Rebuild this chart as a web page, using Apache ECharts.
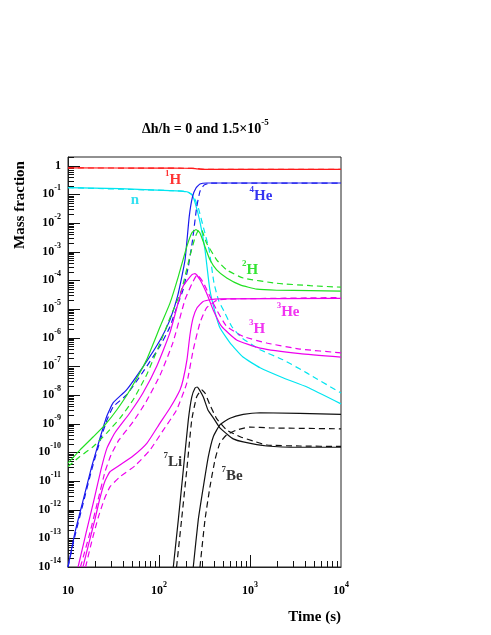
<!DOCTYPE html>
<html>
<head>
<meta charset="utf-8">
<script src="https://cdn.jsdelivr.net/npm/echarts@6/dist/echarts.min.js"></script>
<style>
  html, body { margin: 0; padding: 0; background: #fff; }
  #chart { width: 491px; height: 635px; }
</style>
</head>
<body>
<div id="chart"></div>
<script>
// time (s) and mass fraction, solid = Δh/h 0, dashed = 1.5e-5
const tH1 = [10, 100, 190, 230, 260, 300, 400, 10000];
const yH1 = [0.83, 0.82, 0.81, 0.80, 0.77, 0.745, 0.74, 0.74];
const tH1d = [10, 100, 200, 250, 280, 320, 450, 10000];
const yH1d = [0.83, 0.82, 0.81, 0.80, 0.77, 0.745, 0.74, 0.74];

const tN = [10, 37, 132, 203, 230, 249, 282, 320, 362, 412, 467, 603, 837, 1290, 2300, 4230, 10000];
const yN = [0.170, 0.158, 0.135, 0.123, 0.0977, 0.0513, 0.011, 1.17e-3, 4.7e-5, 7.9e-6, 2.2e-6, 6.6e-7, 2.1e-7, 8.9e-8, 4.0e-8, 1.9e-8, 4.9e-9];
const tNd = [10, 132, 203, 237, 268, 304, 355, 402, 453, 528, 632, 815, 1290, 2300, 4200, 10000];
const yNd = [0.170, 0.135, 0.123, 0.089, 0.037, 8.1e-3, 1.17e-3, 8.1e-5, 1.95e-5, 7.4e-6, 2.4e-6, 9.8e-7, 3.8e-7, 1.7e-7, 5.9e-8, 1.17e-8];

const tHe4 = [10, 11.9, 14.7, 18.2, 22.5, 26.6, 31.4, 44, 67, 103, 132, 160, 193, 215, 234, 255, 282, 334, 10000];
const yHe4 = [1e-14, 1.55e-13, 2.19e-12, 3.16e-11, 3.16e-10, 1.78e-9, 5.37e-9, 1.51e-8, 9.8e-8, 8.3e-7, 4.17e-6, 2.8e-5, 5.0e-4, 1.7e-2, 8.5e-2, 0.166, 0.229, 0.248, 0.248];
const tHe4d = [10, 11.9, 14.7, 18.2, 22.5, 26.6, 31.4, 44, 67, 103, 132, 160, 184, 210, 234, 259, 282, 312, 363, 10000];
const yHe4d = [1e-14, 1.2e-13, 1.7e-12, 2.45e-11, 2.5e-10, 1.26e-9, 3.9e-9, 1e-8, 6.5e-8, 5.2e-7, 2.4e-6, 1.4e-5, 4.7e-5, 3.0e-4, 2.6e-3, 3.4e-2, 0.126, 0.209, 0.245, 0.245];

const tH2 = [10, 13.5, 19.0, 25.5, 34.3, 48, 73, 103, 132, 163, 202, 229, 255, 282, 320, 363, 430, 555, 780, 1190, 1970, 4600, 10000];
const yH2 = [4.2e-11, 1.2e-10, 3.5e-10, 9.1e-10, 3.0e-9, 1.5e-8, 1.7e-7, 2.45e-6, 1.6e-5, 1.35e-4, 1.5e-3, 4.5e-3, 5.9e-3, 4.5e-3, 1.5e-3, 5.2e-4, 2.3e-4, 1.2e-4, 6.9e-5, 4.9e-5, 4.5e-5, 4.4e-5, 4.2e-5];
const tH2d = [10, 13.5, 19.0, 26.6, 37.3, 52, 73, 103, 132, 177, 219, 249, 275, 297, 333, 430, 555, 842, 1970, 4600, 10000];
const yH2d = [3.2e-11, 7.1e-11, 1.6e-10, 4.7e-10, 1.55e-9, 6.8e-9, 5.0e-8, 6.5e-7, 4.9e-6, 4.7e-5, 7.2e-4, 3.1e-3, 5.9e-3, 5.4e-3, 2.0e-3, 5.2e-4, 2.3e-4, 1.2e-4, 7.9e-5, 6.5e-5, 5.75e-5];

const tH3 = [12.9, 15.8, 19.3, 23.0, 26.8, 32.8, 48, 66.6, 95, 132, 183, 229, 249, 282, 333, 394, 488, 713, 1290, 3540, 10000];
const yH3 = [1e-14, 1.55e-13, 2.2e-12, 2.45e-11, 1.4e-10, 4.8e-10, 2.4e-9, 1.17e-8, 1.05e-7, 1.5e-6, 6.0e-5, 1.55e-4, 1.7e-4, 1.05e-4, 3.6e-5, 9.3e-6, 2.45e-6, 8.3e-7, 4.3e-7, 2.75e-7, 2.1e-7];
const tH3d = [13.7, 17.4, 21.4, 25.5, 29.7, 36.3, 51.8, 72, 103, 142, 193, 230, 263, 303, 363, 430, 555, 842, 1530, 3540, 10000];
const yH3d = [1e-14, 1.55e-13, 2.2e-12, 2.1e-11, 8.1e-11, 2.7e-10, 1.15e-9, 5.75e-9, 5.0e-8, 6.6e-7, 2.1e-5, 7.6e-5, 1.55e-4, 8.9e-5, 2.75e-5, 9.3e-6, 2.45e-6, 1.1e-6, 6.5e-7, 4.0e-7, 2.95e-7];

const tHe3 = [14.6, 17.0, 19.8, 22.5, 25.5, 28.9, 37.2, 51.8, 73.8, 103, 132, 170, 184, 203, 219, 237, 262, 303, 363, 467, 10000];
const yHe3 = [1e-14, 6.9e-14, 4.7e-13, 2.6e-12, 1e-11, 2.1e-11, 3.6e-11, 7.4e-11, 2.1e-10, 1.07e-9, 3.5e-9, 1.5e-8, 3.4e-8, 1.7e-7, 1.26e-6, 4.9e-6, 1.1e-5, 1.8e-5, 2.1e-5, 2.24e-5, 2.34e-5];
const tHe3d = [15.6, 18.3, 21.4, 24.9, 28.9, 37.2, 54.5, 79.6, 110, 156, 202, 238, 282, 333, 430, 603, 10000];
const yHe3d = [1e-14, 8.1e-14, 5.1e-13, 2.2e-12, 6.2e-12, 1.4e-11, 3.4e-11, 1.2e-10, 5.6e-10, 3.0e-9, 2.6e-8, 3.8e-7, 3.3e-6, 1.1e-5, 2.0e-5, 2.24e-5, 2.5e-5];

const tLi7 = [143.6, 163, 185, 210, 229, 249, 262, 275, 307, 345, 395, 467, 555, 654, 842, 1530, 3540, 10000];
const yLi7 = [1e-14, 4.4e-13, 2.45e-11, 1.35e-9, 8.5e-9, 1.74e-8, 1.9e-8, 1.6e-8, 8.5e-9, 3.0e-9, 1.6e-9, 7.1e-10, 4.4e-10, 2.95e-10, 2.3e-10, 1.66e-10, 1.5e-10, 1.5e-10];
const tLi7d = [156, 177, 202, 229, 259, 294, 320, 363, 430, 555, 780, 1080, 1530, 3540, 10000];
const yLi7d = [1e-14, 4.4e-13, 2.45e-11, 1.35e-9, 8.5e-9, 1.5e-8, 1.17e-8, 4.5e-9, 1.5e-9, 6.0e-10, 3.5e-10, 2.5e-10, 1.8e-10, 1.66e-10, 1.6e-10];

const tBe7 = [238, 270, 307, 348, 395, 467, 603, 842, 1290, 10000];
const yBe7 = [1e-14, 4.4e-13, 6.2e-12, 6.9e-11, 3.5e-10, 9.1e-10, 1.55e-9, 2.1e-9, 2.4e-9, 2.1e-9];
const tBe7d = [282, 320, 363, 412, 467, 555, 713, 1000, 1650, 10000];
const yBe7d = [1e-14, 4.4e-13, 6.2e-12, 5.4e-11, 2.1e-10, 4.1e-10, 6.0e-10, 7.6e-10, 7.1e-10, 6.6e-10];

// curve labels: [time, fraction, superscript, symbol, colour]
const labelList = [
  [143, 0.30, '1', 'H', '#ff0000'],
  [54.5, 0.065, '', 'n', '#00d8ee'],
  [1320, 0.083, '4', 'He', '#0000ee'],
  [1000, 2.3e-4, '2', 'H', '#00dd00'],
  [2620, 8e-6, '3', 'He', '#ee00ee'],
  [1195, 2e-6, '3', 'H', '#ee00ee'],
  [142, 4.6e-11, '7', 'Li', '#000000'],
  [634, 1.5e-11, '7', 'Be', '#000000']
];

// axis decades (log10 of time / fraction)
const xMajor = [1, 2, 3, 4];
const yMajor = [-14, -13, -12, -11, -10, -9, -8, -7, -6, -5, -4, -3, -2, -1, 0];

const SERIF = '"Liberation Serif", "DejaVu Serif", serif';
const lg = Math.log10;
const X0 = 1, Y0 = -14, YTOP = lg(2);

function minorTicks(lo, hi, top) {
  let out = [];
  for (let n = lo; n < hi; n++) {
    for (let k = 2; k <= 9; k++) {
      let v = n + lg(k);
      if (v <= top) out.push(v);
    }
  }
  return out;
}

// tick rows: [value, length, 0 = x axis / 1 = y axis]
let tickRows = [];
minorTicks(1, 4, 4).forEach(v => tickRows.push([v, 6, 0]));
[2, 3].forEach(v => tickRows.push([v, 12, 0]));
minorTicks(-14, 1, YTOP).forEach(v => tickRows.push([v, 6, 1]));
yMajor.slice(1).forEach(v => tickRows.push([v, 12, 1]));

function curve(t, y, color, dashed) {
  return {
    type: 'line',
    data: t.map((v, i) => [lg(v), lg(y[i])]),
    showSymbol: false,
    smooth: 0.15,
    silent: true,
    animation: false,
    lineStyle: { color: color, width: 1.2, type: dashed ? [6, 4] : 'solid' }
  };
}

const C = { red: '#ff1a1a', cyan: '#00e5f0', blue: '#1a1aee', green: '#22e022', mag: '#ee00ee', black: '#111111' };

const myChart = echarts.init(document.getElementById('chart'));

let supRich = {
  b: { fontFamily: SERIF, fontWeight: 'bold', fontSize: 12, lineHeight: 20, color: '#000' },
  s: { fontFamily: SERIF, fontWeight: 'bold', fontSize: 8, lineHeight: 10, verticalAlign: 'top', color: '#000' }
};
let option = {
  backgroundColor: '#ffffff',
  animation: false,
  title: {
    text: '{a|Δh/h = 0 and 1.5×10}{s|-5}',
    left: 137,
    top: 113,
    textStyle: {
      rich: {
        a: { fontFamily: SERIF, fontWeight: 'bold', fontSize: 14, lineHeight: 22, color: '#000' },
        s: { fontFamily: SERIF, fontWeight: 'bold', fontSize: 9, lineHeight: 12, verticalAlign: 'top', color: '#000' }
      }
    }
  },
  grid: { left: 68, right: 150, top: 157, bottom: 68, show: true, borderColor: '#222', borderWidth: 1 },
  xAxis: {
    type: 'value', min: X0, max: 4, interval: 1,
    axisLine: { show: true, onZero: false, lineStyle: { color: '#222', width: 1 } },
    splitLine: { show: false },
    axisTick: { show: false },
    axisLabel: {
      show: true,
      customValues: xMajor,
      margin: 14,
      formatter: v => v === 1 ? '{b|10}' : '{b|10}{s|' + v + '}',
      rich: supRich
    }
  },
  yAxis: {
    type: 'value', min: Y0, max: YTOP, interval: 1,
    axisLine: { show: true, onZero: false, lineStyle: { color: '#222', width: 1 } },
    splitLine: { show: false },
    axisTick: { show: false },
    axisLabel: {
      show: true,
      customValues: yMajor,
      margin: 7,
      formatter: v => v === 0 ? '{b|1}' : '{b|10}{s|' + v + '}',
      rich: supRich
    }
  },
  graphic: [
    {
      type: 'text', x: 20, y: 205, rotation: Math.PI / 2,
      style: { text: 'Mass fraction', fontFamily: SERIF, fontWeight: 'bold', fontSize: 15, fill: '#000', align: 'center', verticalAlign: 'middle' }
    },
    {
      type: 'text', x: 341, y: 617,
      style: { text: 'Time (s)', fontFamily: SERIF, fontWeight: 'bold', fontSize: 15, fill: '#000', align: 'right', verticalAlign: 'middle' }
    }
  ],
  series: [
    curve(tH1, yH1, C.red, false),
    curve(tH1d, yH1d, C.red, true),
    curve(tN, yN, C.cyan, false),
    curve(tNd, yNd, C.cyan, true),
    curve(tHe4, yHe4, C.blue, false),
    curve(tHe4d, yHe4d, C.blue, true),
    curve(tH2, yH2, C.green, false),
    curve(tH2d, yH2d, C.green, true),
    curve(tH3, yH3, C.mag, false),
    curve(tH3d, yH3d, C.mag, true),
    curve(tHe3, yHe3, C.mag, false),
    curve(tHe3d, yHe3d, C.mag, true),
    curve(tLi7, yLi7, C.black, false),
    curve(tLi7d, yLi7d, C.black, true),
    curve(tBe7, yBe7, C.black, false),
    curve(tBe7d, yBe7d, C.black, true),
    {
      // log-axis ticks, pointing into the frame
      type: 'custom',
      silent: true,
      animation: false,
      clip: false,
      data: tickRows,
      renderItem: function (params, api) {
        let v = api.value(0), len = api.value(1), onY = api.value(2) === 1;
        if (!onY) {
          let p = api.coord([v, Y0]);
          let x = Math.round(p[0]) + 0.5;
          return { type: 'line', shape: { x1: x, y1: p[1], x2: x, y2: p[1] - len }, style: { stroke: '#111', lineWidth: 1 } };
        }
        let p = api.coord([X0, v]);
        let y = Math.round(p[1]) + 0.5;
        return { type: 'line', shape: { x1: p[0], y1: y, x2: p[0] + len, y2: y }, style: { stroke: '#111', lineWidth: 1 } };
      }
    },
    {
      type: 'scatter',
      symbolSize: 0,
      silent: true,
      animation: false,
      data: labelList.map(d => ({
        value: [lg(d[0]), lg(d[1])],
        label: {
          show: true,
          position: 'inside',
          formatter: d[2] ? '{s|' + d[2] + '}{b|' + d[3] + '}' : '{b|' + d[3] + '}',
          rich: {
            b: { fontFamily: SERIF, fontWeight: 'bold', fontSize: 15, lineHeight: 22, color: d[4] },
            s: { fontFamily: SERIF, fontWeight: 'bold', fontSize: 9, lineHeight: 12, verticalAlign: 'top', color: d[4] }
          }
        }
      }))
    }
  ]
};

myChart.setOption(option);
window.addEventListener('resize', () => myChart.resize());
</script>
</body>
</html>
